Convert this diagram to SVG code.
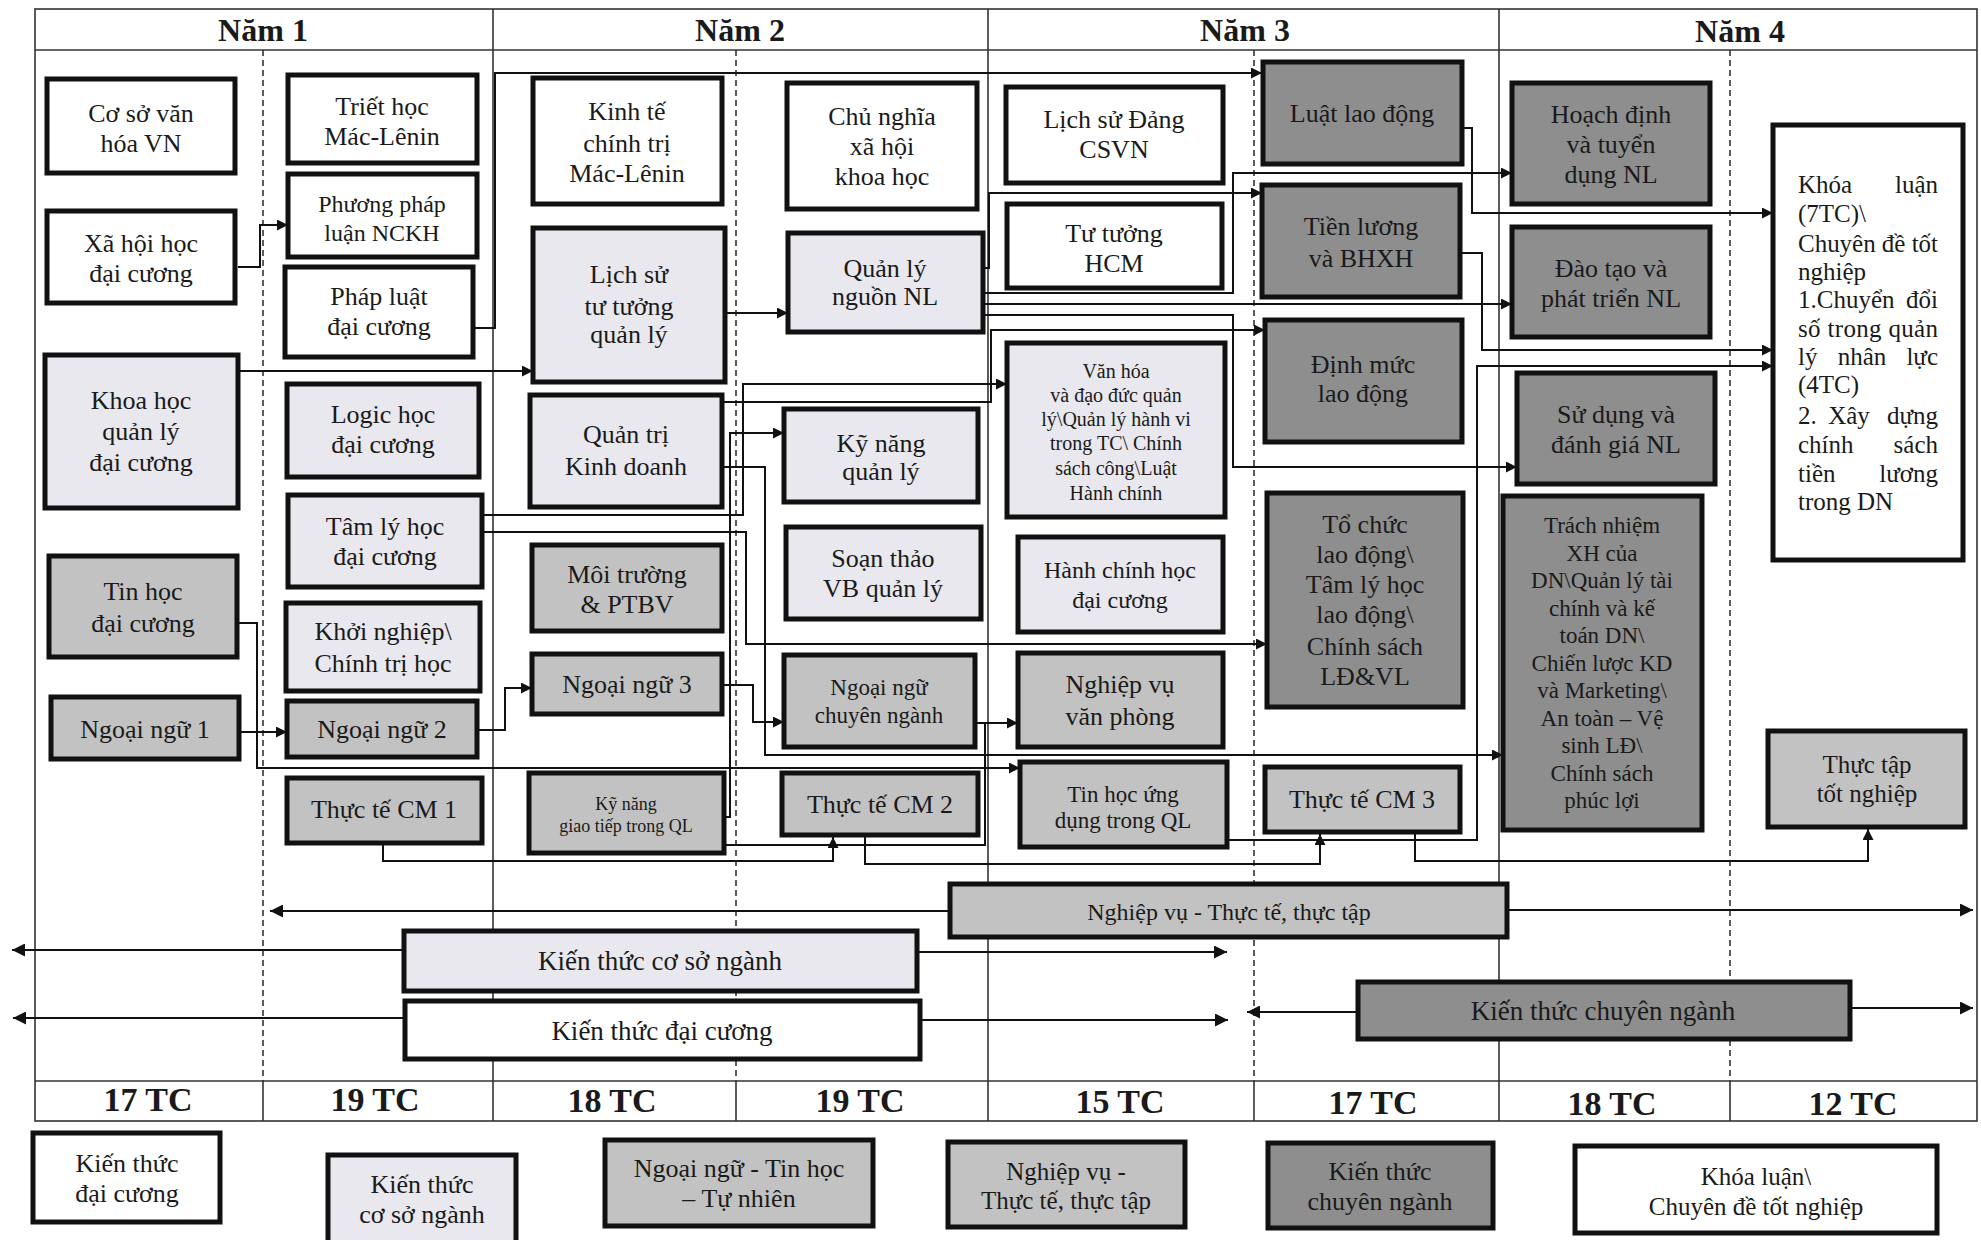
<svg xmlns="http://www.w3.org/2000/svg" width="1981" height="1240" viewBox="0 0 1981 1240">
<defs>
<marker id="a" viewBox="0 0 10 10" refX="10" refY="5" markerWidth="12" markerHeight="11" markerUnits="userSpaceOnUse" orient="auto"><path d="M0,0 L10,5 L0,10 z" fill="#111"/></marker>
<marker id="b" viewBox="0 0 10 10" refX="10" refY="5" markerWidth="16" markerHeight="13" markerUnits="userSpaceOnUse" orient="auto"><path d="M0,0 L10,5 L0,10 z" fill="#111"/></marker>
</defs>
<style>
text{font-family:"Liberation Serif","Times New Roman",serif;fill:#1a1a1a;text-anchor:middle;font-size:26px}
.bx{stroke:#111;stroke-width:5}
.w{fill:#fff}.l{fill:#e8e8ee}.m{fill:#c2c2c2}.d{fill:#8e8e8e}
.fr{stroke:#333;stroke-width:1.6;fill:none}
.ds{stroke:#333;stroke-width:1.6;stroke-dasharray:6 4;fill:none}
.hd{font-size:32px;font-weight:bold}
.tc{font-size:34px;font-weight:bold}
.c{fill:none;stroke:#111;stroke-width:2;marker-end:url(#a)}
.cn{fill:none;stroke:#111;stroke-width:2}
.ba{fill:none;stroke:#111;stroke-width:2;marker-end:url(#b)}
.st{text-anchor:start}.en{text-anchor:end}
</style>
<rect width="1981" height="1240" fill="#fff"/>
<g id="frame">
<rect class="fr" x="35" y="9" width="1942" height="1112"/>
<line class="fr" x1="35" y1="50" x2="1977" y2="50"/>
<line class="fr" x1="35" y1="1081" x2="1977" y2="1081"/>
<line class="fr" x1="493" y1="9" x2="493" y2="1121"/>
<line class="fr" x1="988" y1="9" x2="988" y2="1121"/>
<line class="fr" x1="1499" y1="9" x2="1499" y2="1121"/>
<line class="ds" x1="263" y1="50" x2="263" y2="1081"/>
<line class="ds" x1="736" y1="50" x2="736" y2="1081"/>
<line class="ds" x1="1254" y1="50" x2="1254" y2="1081"/>
<line class="ds" x1="1730" y1="50" x2="1730" y2="1081"/>
<line class="fr" x1="263" y1="1081" x2="263" y2="1121"/>
<line class="fr" x1="736" y1="1081" x2="736" y2="1121"/>
<line class="fr" x1="1254" y1="1081" x2="1254" y2="1121"/>
<line class="fr" x1="1730" y1="1081" x2="1730" y2="1121"/>
<text class="hd" x="263" y="41">Năm 1</text>
<text class="hd" x="740" y="41">Năm 2</text>
<text class="hd" x="1245" y="41">Năm 3</text>
<text class="hd" x="1740" y="42">Năm 4</text>
<text class="tc" x="148" y="1111">17 TC</text>
<text class="tc" x="375" y="1111">19 TC</text>
<text class="tc" x="612" y="1112">18 TC</text>
<text class="tc" x="860" y="1112">19 TC</text>
<text class="tc" x="1120" y="1113">15 TC</text>
<text class="tc" x="1373" y="1114">17 TC</text>
<text class="tc" x="1612" y="1115">18 TC</text>
<text class="tc" x="1853" y="1115">12 TC</text>
</g>
<g id="connectors">
<path class="c" d="M238,267 H260 V225 H288"/>
<path class="c" d="M475,328 H495 V73 H1262"/>
<path class="c" d="M238,371 H533"/>
<path class="c" d="M725,313 H788"/>
<path class="c" d="M983,268 H989 V193 H1262"/>
<path class="c" d="M983,293 H1233 V173 H1512"/>
<path class="c" d="M983,304 H1512"/>
<path class="c" d="M983,315 H1233 V467 H1517"/>
<path class="c" d="M722,402 H991 V330 H1265"/>
<path class="c" d="M482,515 H743 V384 H1007"/>
<path class="c" d="M482,532 H746 V644 H1267"/>
<path class="c" d="M722,467 H765 V755 H1503"/>
<path class="c" d="M722,685 H753 V722 H784"/>
<path class="c" d="M477,730 H505 V688 H532"/>
<path class="c" d="M239,732 H287"/>
<path class="c" d="M237,623 H257 V768 H1020"/>
<path class="c" d="M724,817 H730 V433 H784"/>
<path class="c" d="M975,723 H1018"/>
<path class="cn" d="M724,845 H985 V723"/>
<path class="c" d="M383,843 V861 H833 V837"/>
<path class="c" d="M865,835 V864 H1320 V834"/>
<path class="c" d="M1227,840 H1477 V366 H1773"/>
<path class="c" d="M1415,832 V861 H1868 V829"/>
<path class="c" d="M1462,128 H1472 V213 H1773"/>
<path class="c" d="M1460,253 H1482 V350 H1773"/>
<path class="ba" d="M950,911 H270"/>
<path class="ba" d="M1507,910 H1973"/>
<path class="ba" d="M404,950 H12"/>
<path class="ba" d="M917,952 H1227"/>
<path class="ba" d="M405,1018 H13"/>
<path class="ba" d="M920,1020 H1228"/>
<path class="ba" d="M1358,1012 H1247"/>
<path class="ba" d="M1850,1008 H1973"/>
</g>
<g id="n1"><rect class="bx w" x="47" y="79" width="188" height="94"/><text x="141" y="122">Cơ sở văn</text><text x="141" y="152">hóa VN</text></g>
<g id="n2"><rect class="bx w" x="47" y="211" width="188" height="92"/><text x="141" y="252">Xã hội học</text><text x="141" y="282">đại cương</text></g>
<g id="n3"><rect class="bx l" x="45" y="355" width="193" height="153"/><text x="141" y="409">Khoa học</text><text x="141" y="440">quản lý</text><text x="141" y="471">đại cương</text></g>
<g id="n4"><rect class="bx m" x="49" y="556" width="188" height="101"/><text x="143" y="600">Tin học</text><text x="143" y="632">đại cương</text></g>
<g id="n5"><rect class="bx m" x="51" y="697" width="188" height="62"/><text x="145" y="738">Ngoại ngữ 1</text></g>
<g id="n6"><rect class="bx w" x="288" y="75" width="189" height="88"/><text x="382" y="115">Triết học</text><text x="382" y="145">Mác-Lênin</text></g>
<g id="n7"><rect class="bx w" x="288" y="174" width="189" height="83"/><text x="382" y="212" style="font-size:24px">Phương pháp</text><text x="382" y="241" style="font-size:24px">luận NCKH</text></g>
<g id="n8"><rect class="bx w" x="285" y="267" width="188" height="90"/><text x="379" y="305">Pháp luật</text><text x="379" y="335">đại cương</text></g>
<g id="n9"><rect class="bx l" x="287" y="384" width="192" height="93"/><text x="383" y="423">Logic học</text><text x="383" y="453">đại cương</text></g>
<g id="n10"><rect class="bx l" x="288" y="495" width="194" height="92"/><text x="385" y="535">Tâm lý học</text><text x="385" y="565">đại cương</text></g>
<g id="n11"><rect class="bx l" x="286" y="603" width="194" height="88"/><text x="383" y="640">Khởi nghiệp\</text><text x="383" y="672">Chính trị học</text></g>
<g id="n12"><rect class="bx m" x="287" y="701" width="190" height="56"/><text x="382" y="738">Ngoại ngữ 2</text></g>
<g id="n13"><rect class="bx m" x="287" y="778" width="195" height="65"/><text x="384" y="818">Thực tế CM 1</text></g>
<g id="n14"><rect class="bx w" x="533" y="78" width="189" height="126"/><text x="627" y="120">Kinh tế</text><text x="627" y="152">chính trị</text><text x="627" y="182">Mác-Lênin</text></g>
<g id="n15"><rect class="bx l" x="533" y="228" width="192" height="154"/><text x="629" y="283">Lịch sử</text><text x="629" y="315">tư tưởng</text><text x="629" y="343">quản lý</text></g>
<g id="n16"><rect class="bx l" x="530" y="395" width="192" height="112"/><text x="626" y="443">Quản trị</text><text x="626" y="475">Kinh doanh</text></g>
<g id="n17"><rect class="bx m" x="532" y="545" width="190" height="86"/><text x="627" y="583">Môi trường</text><text x="627" y="613">&amp; PTBV</text></g>
<g id="n18"><rect class="bx m" x="532" y="654" width="190" height="60"/><text x="627" y="693">Ngoại ngữ 3</text></g>
<g id="n19"><rect class="bx m" x="529" y="773" width="195" height="80"/><text x="626" y="810" style="font-size:18px">Kỹ năng</text><text x="626" y="832" style="font-size:18px">giao tiếp trong QL</text></g>
<g id="n20"><rect class="bx w" x="787" y="83" width="190" height="126"/><text x="882" y="125">Chủ nghĩa</text><text x="882" y="155">xã hội</text><text x="882" y="185">khoa học</text></g>
<g id="n21"><rect class="bx l" x="788" y="233" width="195" height="99"/><text x="885" y="277">Quản lý</text><text x="885" y="305">nguồn NL</text></g>
<g id="n22"><rect class="bx l" x="784" y="409" width="194" height="93"/><text x="881" y="452">Kỹ năng</text><text x="881" y="480">quản lý</text></g>
<g id="n23"><rect class="bx l" x="786" y="527" width="195" height="92"/><text x="883" y="567">Soạn thảo</text><text x="883" y="597">VB quản lý</text></g>
<g id="n24"><rect class="bx m" x="784" y="655" width="191" height="92"/><text x="879" y="695" style="font-size:23px">Ngoại ngữ</text><text x="879" y="723" style="font-size:23px">chuyên ngành</text></g>
<g id="n25"><rect class="bx m" x="782" y="773" width="196" height="62"/><text x="880" y="813">Thực tế CM 2</text></g>
<g id="n26"><rect class="bx w" x="1006" y="87" width="217" height="96"/><text x="1114" y="128">Lịch sử Đảng</text><text x="1114" y="158">CSVN</text></g>
<g id="n27"><rect class="bx w" x="1007" y="204" width="215" height="84"/><text x="1114" y="242">Tư tưởng</text><text x="1114" y="272">HCM</text></g>
<g id="n28"><rect class="bx l" x="1007" y="343" width="218" height="174"/><g style="font-size:20px"><text x="1116" y="378" style="font-size:20px">Văn hóa</text><text x="1116" y="402" style="font-size:20px">và đạo đức quản</text><text x="1116" y="426" style="font-size:20px">lý\Quản lý hành vi</text><text x="1116" y="450" style="font-size:20px">trong  TC\ Chính</text><text x="1116" y="475" style="font-size:20px">sách  công\Luật</text><text x="1116" y="500" style="font-size:20px">Hành chính</text></g></g>
<g id="n29"><rect class="bx l" x="1018" y="537" width="205" height="95"/><text x="1120" y="578" style="font-size:24px">Hành chính học</text><text x="1120" y="608" style="font-size:24px">đại cương</text></g>
<g id="n30"><rect class="bx m" x="1018" y="653" width="205" height="94"/><text x="1120" y="693">Nghiệp vụ</text><text x="1120" y="725">văn phòng</text></g>
<g id="n31"><rect class="bx m" x="1020" y="762" width="207" height="85"/><text x="1123" y="802" style="font-size:23px">Tin học ứng</text><text x="1123" y="828" style="font-size:23px">dụng trong QL</text></g>
<g id="n32"><rect class="bx d" x="1263" y="62" width="199" height="102"/><text x="1362" y="122">Luật lao động</text></g>
<g id="n33"><rect class="bx d" x="1262" y="185" width="198" height="112"/><text x="1361" y="235">Tiền lương</text><text x="1361" y="267">và BHXH</text></g>
<g id="n34"><rect class="bx d" x="1265" y="320" width="197" height="122"/><text x="1363" y="373">Định mức</text><text x="1363" y="402">lao động</text></g>
<g id="n35"><rect class="bx d" x="1267" y="493" width="196" height="214"/><text x="1365" y="533">Tổ chức</text><text x="1365" y="563">lao động\</text><text x="1365" y="593">Tâm lý học</text><text x="1365" y="623">lao động\</text><text x="1365" y="655">Chính sách</text><text x="1365" y="685">LĐ&amp;VL</text></g>
<g id="n36"><rect class="bx m" x="1265" y="767" width="195" height="65"/><text x="1362" y="808">Thực tế CM 3</text></g>
<g id="n37"><rect class="bx d" x="1512" y="83" width="198" height="121"/><text x="1611" y="123">Hoạch định</text><text x="1611" y="153">và tuyển</text><text x="1611" y="183">dụng NL</text></g>
<g id="n38"><rect class="bx d" x="1512" y="227" width="198" height="110"/><text x="1611" y="277">Đào tạo và</text><text x="1611" y="307">phát triển NL</text></g>
<g id="n39"><rect class="bx d" x="1517" y="373" width="198" height="111"/><text x="1616" y="423">Sử dụng và</text><text x="1616" y="453">đánh giá NL</text></g>
<g id="n40"><rect class="bx d" x="1503" y="496" width="199" height="334"/><text x="1602" y="533" style="font-size:23px">Trách nhiệm</text><text x="1602" y="561" style="font-size:23px">XH của</text><text x="1602" y="588" style="font-size:23px">DN\Quản lý tài</text><text x="1602" y="616" style="font-size:23px">chính và kế</text><text x="1602" y="643" style="font-size:23px">toán DN\</text><text x="1602" y="671" style="font-size:23px">Chiến lược KD</text><text x="1602" y="698" style="font-size:23px">và Marketing\</text><text x="1602" y="726" style="font-size:23px">An toàn – Vệ</text><text x="1602" y="753" style="font-size:23px">sinh LĐ\</text><text x="1602" y="781" style="font-size:23px">Chính sách</text><text x="1602" y="808" style="font-size:23px">phúc lợi</text></g>
<g id="n41"><rect class="bx w" x="1773" y="125" width="190" height="435"/>
<text class="st" x="1798" y="193" style="font-size:25px">Khóa</text><text class="en" x="1938" y="193" style="font-size:25px">luận</text>
<text class="st" x="1798" y="222" style="font-size:25px">(7TC)\</text>
<text class="st" x="1798" y="252" style="font-size:25px" textLength="140" lengthAdjust="spacing">Chuyên đề tốt</text>
<text class="st" x="1798" y="280" style="font-size:25px">nghiệp</text>
<text class="st" x="1798" y="308" style="font-size:25px">1.Chuyển</text><text class="en" x="1938" y="308" style="font-size:25px">đổi</text>
<text class="st" x="1798" y="337" style="font-size:25px" textLength="140" lengthAdjust="spacing">số trong quản</text>
<text class="st" x="1798" y="365" style="font-size:25px">lý</text><text x="1862" y="365" style="font-size:25px">nhân</text><text class="en" x="1938" y="365" style="font-size:25px">lực</text>
<text class="st" x="1798" y="393" style="font-size:25px">(4TC)</text>
<text class="st" x="1798" y="424" style="font-size:25px">2.</text><text x="1849" y="424" style="font-size:25px">Xây</text><text class="en" x="1938" y="424" style="font-size:25px">dựng</text>
<text class="st" x="1798" y="453" style="font-size:25px">chính</text><text class="en" x="1938" y="453" style="font-size:25px">sách</text>
<text class="st" x="1798" y="482" style="font-size:25px">tiền</text><text class="en" x="1938" y="482" style="font-size:25px">lương</text>
<text class="st" x="1798" y="510" style="font-size:25px">trong DN</text>
</g>
<g id="n42"><rect class="bx m" x="1768" y="731" width="197" height="96"/><text x="1867" y="773" style="font-size:25px">Thực tập</text><text x="1867" y="802" style="font-size:25px">tốt nghiệp</text></g>
<g id="bar-nghiepvu"><rect class="bx m" x="950" y="884" width="557" height="53"/><text x="1229" y="920" style="font-size:24px">Nghiệp vụ - Thực tế, thực tập</text></g>
<g id="bar-cosonganh"><rect class="bx l" x="404" y="931" width="513" height="60"/><text x="660" y="970" style="font-size:27px">Kiến thức cơ sở ngành</text></g>
<g id="bar-daicuong"><rect class="bx w" x="405" y="1001" width="515" height="58"/><text x="662" y="1040" style="font-size:27px">Kiến thức đại cương</text></g>
<g id="bar-chuyennganh"><rect class="bx d" x="1358" y="982" width="492" height="57"/><text x="1603" y="1020" style="font-size:27px">Kiến thức chuyên ngành</text></g>
<g id="legend1"><rect class="bx w" x="33" y="1133" width="187" height="89"/><text x="127" y="1172">Kiến thức</text><text x="127" y="1202">đại cương</text></g>
<g id="legend2"><rect class="bx l" x="328" y="1155" width="188" height="95"/><text x="422" y="1193">Kiến thức</text><text x="422" y="1223">cơ sở ngành</text></g>
<g id="legend3"><rect class="bx m" x="605" y="1140" width="268" height="86"/><text x="739" y="1177">Ngoại ngữ - Tin học</text><text x="739" y="1207">– Tự nhiên</text></g>
<g id="legend4"><rect class="bx m" x="948" y="1142" width="237" height="85"/><text x="1066" y="1180" style="font-size:25px">Nghiệp vụ -</text><text x="1066" y="1209" style="font-size:25px">Thực tế, thực tập</text></g>
<g id="legend5"><rect class="bx d" x="1268" y="1143" width="225" height="85"/><text x="1380" y="1180">Kiến thức</text><text x="1380" y="1210">chuyên ngành</text></g>
<g id="legend6"><rect class="bx w" x="1575" y="1146" width="362" height="87"/><text x="1756" y="1185" style="font-size:25px">Khóa luận\</text><text x="1756" y="1215" style="font-size:25px">Chuyên đề tốt nghiệp</text></g>
</svg>
